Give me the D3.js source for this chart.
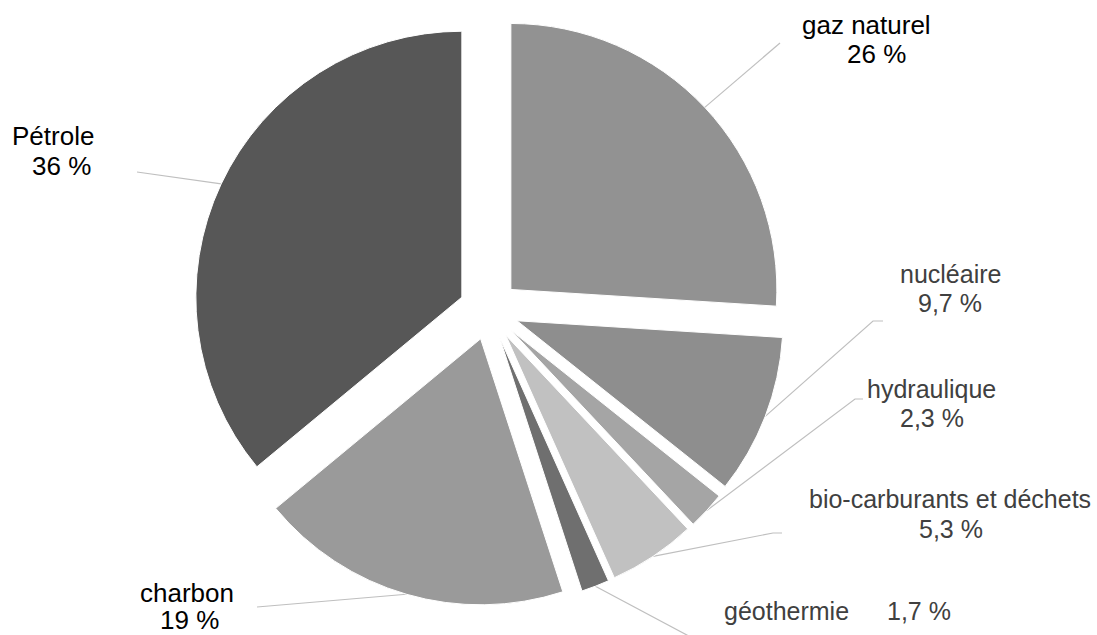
<!DOCTYPE html>
<html>
<head>
<meta charset="utf-8">
<script src="https://cdn.jsdelivr.net/npm/d3@7"></script>
<style>
  body { margin: 0; background: #fff; }
  svg { display: block; font-family: "Liberation Sans", Arial, sans-serif; }
</style>
</head>
<body>
<div id="chart"></div>
<script>
// data, clockwise from 12 o'clock
const categories = ["gaz naturel", "nucléaire", "hydraulique", "bio-carburants et déchets", "géothermie", "charbon", "Pétrole"];
const values = [26, 9.7, 2.3, 5.3, 1.7, 19, 36];
const colors = ["#929292", "#8e8e8e", "#a5a5a5", "#c1c1c1", "#6f6f6f", "#9a9a9a", "#575757"];

// label layout (line 1 = name, line 2 = value)
const labelPos = [
  { x1: 802, y1: 34, x2: 847, y2: 63, fill: "#000", size: 26, end: [[780, 43]] },
  { x1: 900, y1: 283, x2: 918, y2: 312, fill: "#404040", size: 25, end: [[873, 321], [883, 321]] },
  { x1: 867, y1: 398, x2: 900, y2: 427, fill: "#404040", size: 25, end: [[855, 399], [863, 399]] },
  { x1: 809, y1: 508, x2: 919, y2: 538, fill: "#404040", size: 25, end: [[773, 533], [782, 533]] },
  { x1: 724, y1: 620, x2: 887, y2: 620, fill: "#404040", size: 25, end: [[700, 642]] },
  { x1: 140, y1: 602, x2: 160, y2: 629, fill: "#000", size: 26, end: [[257, 607]] },
  { x1: 12, y1: 145, x2: 32, y2: 175, fill: "#000", size: 26, end: [[137, 172]] }
];

const width = 1097, height = 635;
const cx = 489, cy = 310, radius = 266, explode = 30;

const svg = d3.select("#chart")
  .append("svg")
  .attr("width", width)
  .attr("height", height);

svg.append("rect").attr("width", width).attr("height", height).attr("fill", "#fff");

const pie = d3.pie().sort(null).value(d => d);
const arcs = pie(values);
const arc = d3.arc().innerRadius(0).outerRadius(radius);

const g = svg.append("g").attr("transform", `translate(${cx},${cy})`);

function offset(d, r) {
  const a = (d.startAngle + d.endAngle) / 2;
  return [Math.sin(a) * r, -Math.cos(a) * r];
}

// leader lines
arcs.forEach((d, i) => {
  const o = offset(d, explode);
  const p = offset(d, radius);
  const pts = [[o[0] + p[0], o[1] + p[1]]].concat(labelPos[i].end.map(e => [e[0] - cx, e[1] - cy]));
  g.append("path")
    .attr("d", d3.line()(pts))
    .attr("fill", "none")
    .attr("stroke", "#bfbfbf")
    .attr("stroke-width", 1.2);
});

// slices
g.selectAll(".slice")
  .data(arcs)
  .enter()
  .append("path")
  .attr("class", "slice")
  .attr("transform", d => `translate(${offset(d, explode)})`)
  .attr("d", arc)
  .attr("fill", (d, i) => colors[i])
  .attr("stroke", "#fff")
  .attr("stroke-width", 1);

// labels
const fmt = v => String(v).replace(".", ",") + " %";
categories.forEach((c, i) => {
  const l = labelPos[i];
  svg.append("text")
    .attr("x", l.x1).attr("y", l.y1)
    .attr("font-size", l.size)
    .attr("fill", l.fill)
    .text(c);
  svg.append("text")
    .attr("x", l.x2).attr("y", l.y2)
    .attr("font-size", l.size)
    .attr("fill", l.fill)
    .text(fmt(values[i]));
});
</script>
</body>
</html>
